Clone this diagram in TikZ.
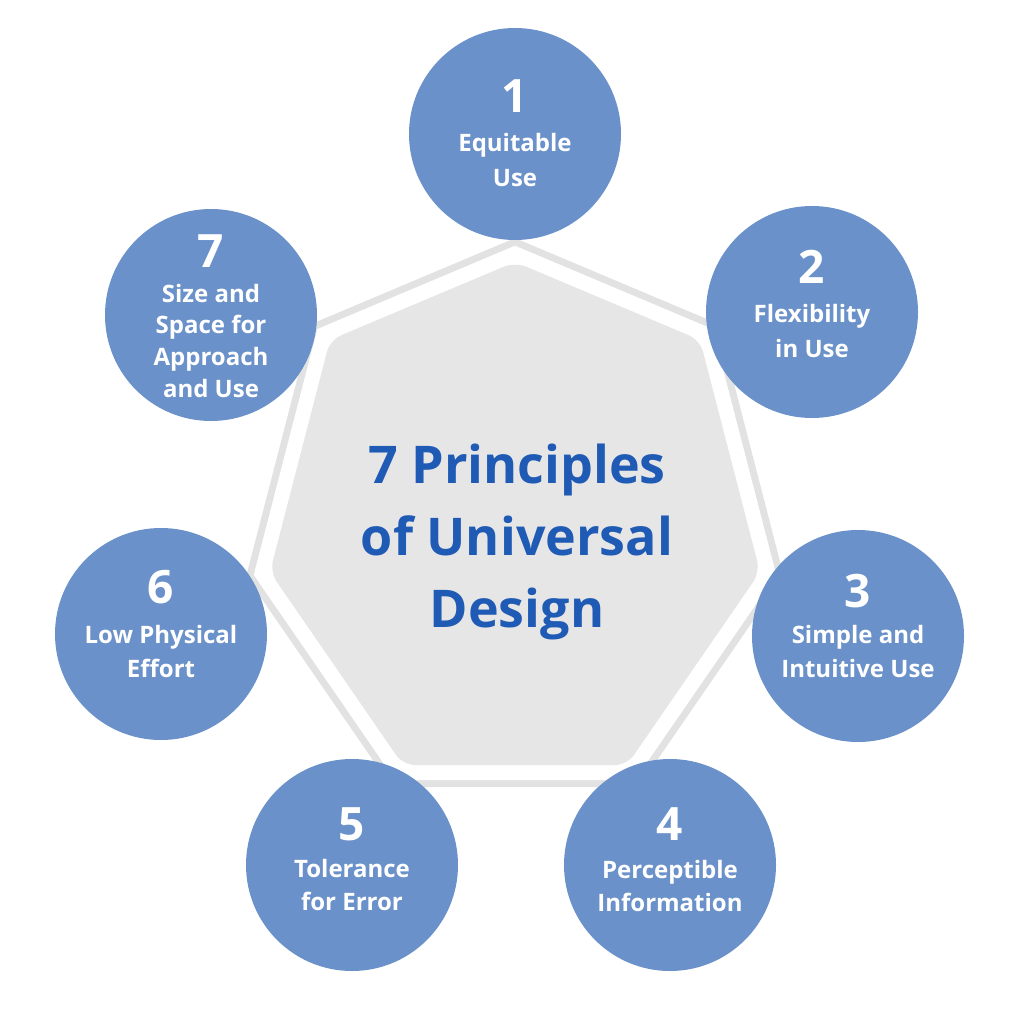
\documentclass[tikz,border=0pt]{standalone}
\usepackage{fontspec}
\setmainfont{Open Sans}
\usetikzlibrary{calc}
\definecolor{circblue}{HTML}{6A91C9}
\definecolor{titleblue}{HTML}{1F5AB4}
\definecolor{heptfill}{HTML}{E6E6E6}
\definecolor{heptband}{HTML}{E2E2E2}
% #1 name, #2 cx, #3 cy, #4 number baseline, #5 first label baseline, #6 spacing, #7 number, #8 lines
\newcommand\principle[8]{%
  \node[pcirc] (c#1) at (#2,#3) {};
  \node[pnum, anchor=base] (n#1) at (#2,#4) {#7};
  \foreach \ln [count=\k] in {#8} {%
    \pgfmathsetmacro\yy{#5+(\k-1)*#6}%
    \node[plbl, anchor=base] (l#1-\k) at (#2,\yy) {\ln};
  }%
}
\begin{document}
\begin{tikzpicture}[x=1pt,y=-1pt,
  pcirc/.style={circle, fill=circblue, minimum size=212pt, inner sep=0pt},
  pnum/.style={text=white, font=\fontsize{46}{46}\selectfont\bfseries, inner sep=0pt},
  plbl/.style={text=white, font=\fontsize{24}{24}\selectfont\bfseries, inner sep=0pt},
  ttl/.style={text=titleblue, font=\fontsize{52}{52}\selectfont\bfseries, inner sep=0pt}]
\useasboundingbox (0,0) rectangle (1024,1024);
\fill[white] (0,0) rectangle (1024,1024);
% heptagon
\coordinate (h1) at (515,262);
\coordinate (h2) at (700,340);
\coordinate (h3) at (760,572);
\coordinate (h4) at (627,765);
\coordinate (h5) at (403,765);
\coordinate (h6) at (270,572);
\coordinate (h7) at (330,340);
\draw[heptband, line width=44pt, line join=miter] (h1)--(h2)--(h3)--(h4)--(h5)--(h6)--(h7)--cycle;
\draw[white, line width=30pt, line join=miter] (h1)--(h2)--(h3)--(h4)--(h5)--(h6)--(h7)--cycle;
\fill[heptfill, rounded corners=12pt] (h1)--(h2)--(h3)--(h4)--(h5)--(h6)--(h7)--cycle;
% title
\node[ttl, anchor=base] (t1) at (517,483) {7 Principles};
\node[ttl, anchor=base] (t2) at (517,555) {of Universal};
\node[ttl, anchor=base] (t3) at (517,627) {Design};
% circles
\principle{1}{515}{134}{113}{152}{35}{1}{Equitable,Use}
\principle{2}{812}{312}{283}{322}{35}{2}{Flexibility,in Use}
\principle{3}{858}{636}{607}{643}{34}{3}{Simple and,Intuitive Use}
\principle{4}{670}{865}{840}{878}{33}{4}{Perceptible,Information}
\principle{5}{352}{865}{840}{877}{33}{5}{Tolerance,for Error}
\principle{6}{161}{634}{603}{643}{34}{6}{Low Physical,Effort}
\principle{7}{211}{315}{267}{302}{31.7}{7}{Size and,Space for,Approach,and Use}
\end{tikzpicture}
\end{document}
